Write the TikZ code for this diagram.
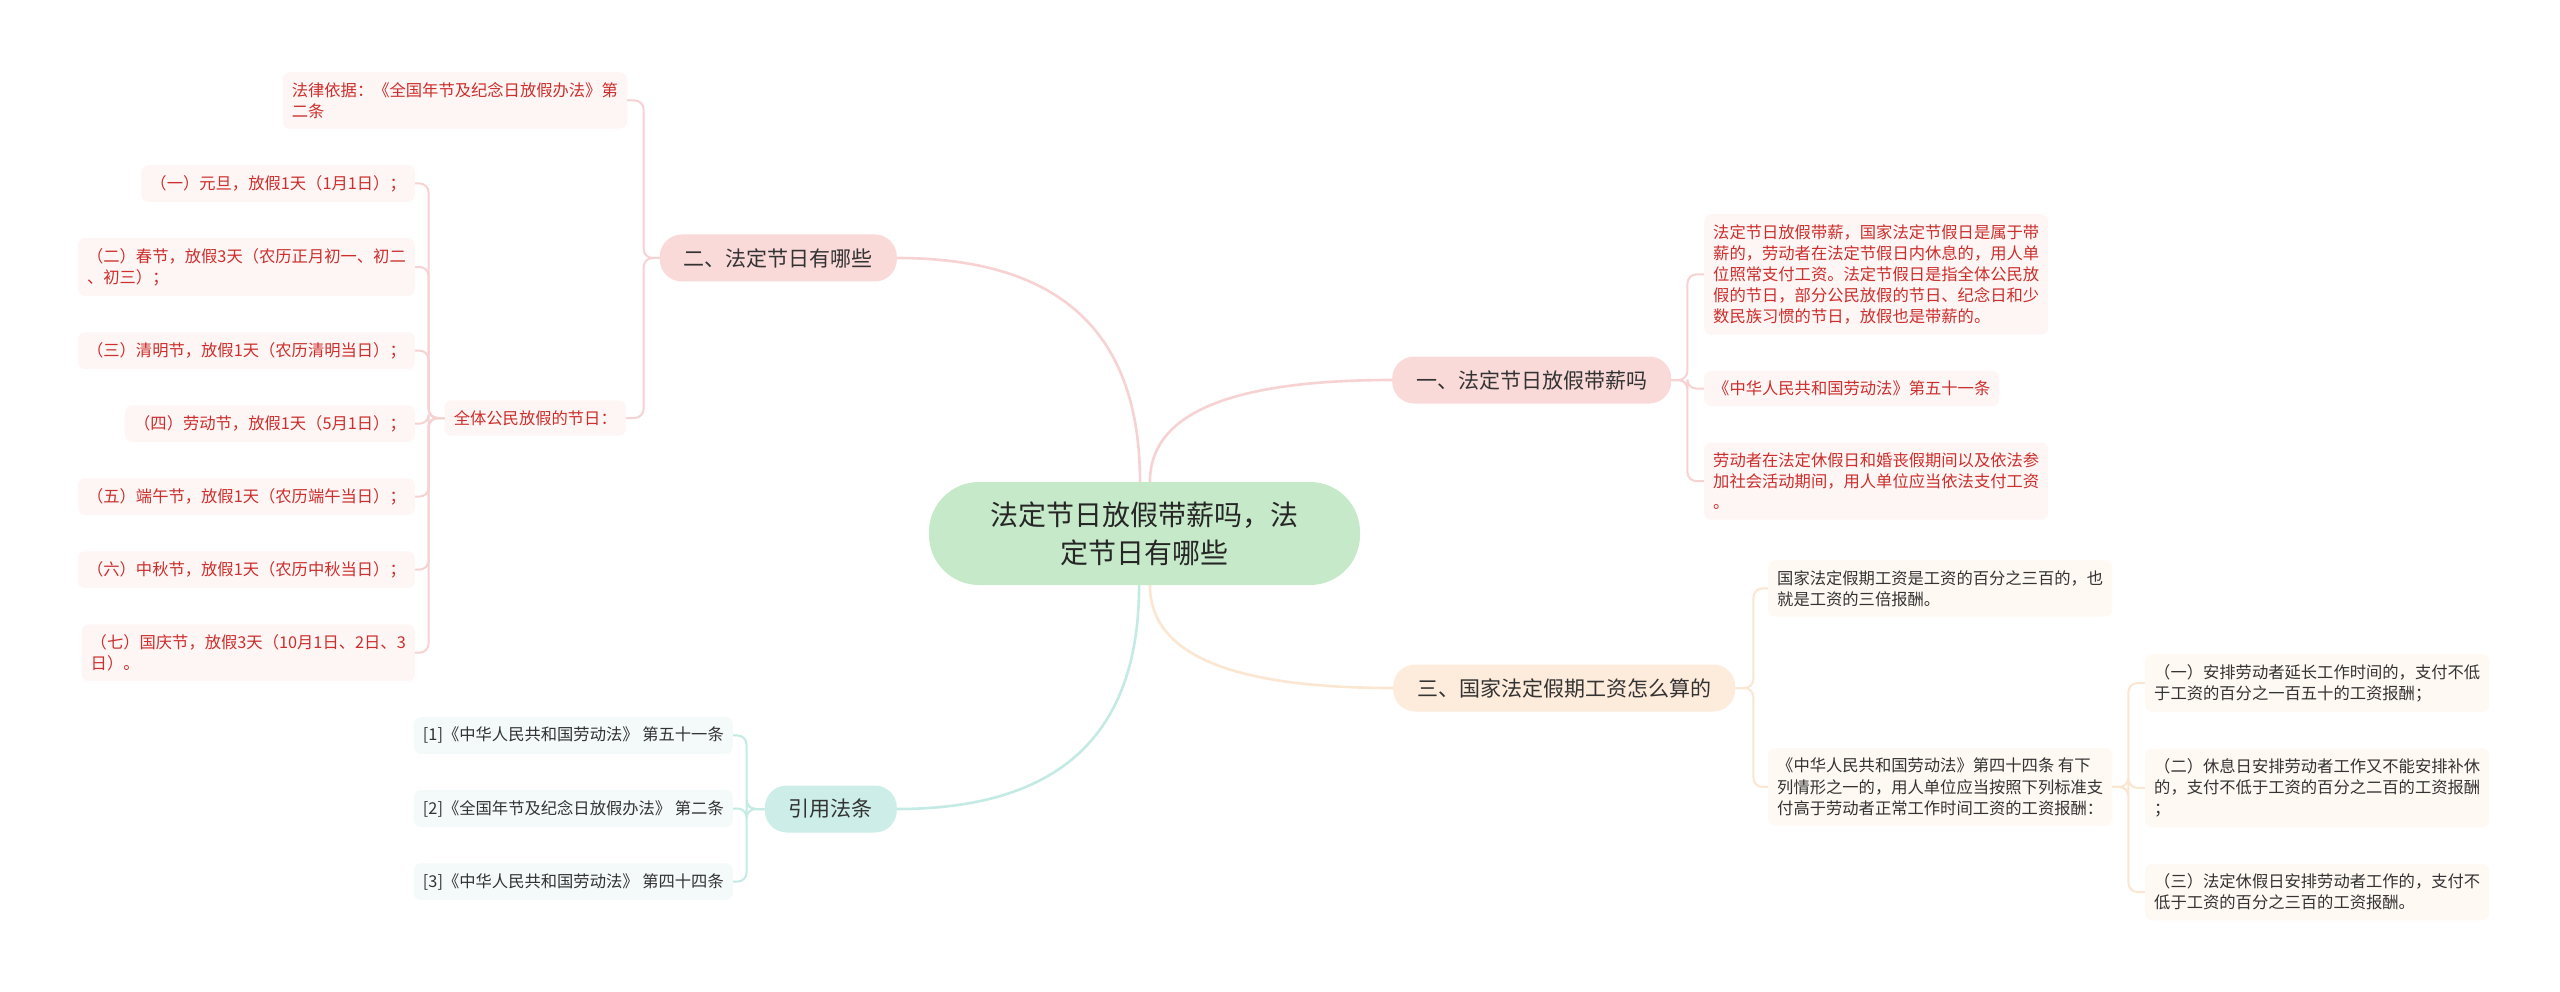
\documentclass[tikz,border=0pt]{standalone}
\usepackage{fontspec}
\setmainfont{Noto Sans CJK SC}
\usepackage{xcolor}
\usepackage{tikz}
\usetikzlibrary{positioning,calc,backgrounds}
\definecolor{rootfill}{HTML}{C6EAC9}
\definecolor{rosefill}{HTML}{FAD9D9}
\definecolor{peachfill}{HTML}{FDEBDB}
\definecolor{mintfill}{HTML}{CDEEE8}
\definecolor{roseleaf}{HTML}{FEF5F5}
\definecolor{peachleaf}{HTML}{FFF9F3}
\definecolor{mintleaf}{HTML}{F3FAF9}
\definecolor{roseline}{HTML}{F6D2D2}
\definecolor{peachline}{HTML}{FBE6D1}
\definecolor{mintline}{HTML}{C3EAE3}
\definecolor{leafred}{HTML}{CC2F2C}
\definecolor{ink}{HTML}{333333}
\tikzset{
    topic/.style={rectangle, rounded corners=50pt, fill=rootfill, text=ink!75!black, minimum width=431pt, minimum height=103pt, align=center, font=\fontsize{28}{38}\selectfont},
    branch/.style={rectangle, rounded corners=22pt, minimum height=47pt, inner xsep=24pt, inner ysep=0pt, text=ink, font=\fontsize{21}{26}\selectfont},
    leaf/.style={rectangle, rounded corners=7pt, inner xsep=9pt, inner ysep=10pt, align=left, font=\fontsize{16.3}{21.2}\selectfont},
    roseleafbox/.style={leaf, fill=roseleaf, text=leafred},
    peachleafbox/.style={leaf, fill=peachleaf, text=ink},
    mintleafbox/.style={leaf, fill=mintleaf, text=ink},
    link/.style={line width=2.6pt, line cap=round},
    twig/.style={line width=2pt, rounded corners=9pt},
    curvy/.style={to path={.. controls ($(\tikztostart)!.67!(\tikztostart |- \tikztotarget)$) and ($(\tikztotarget)!.67!(\tikztostart |- \tikztotarget)$) .. (\tikztotarget)}}
}

\begin{document}
\begin{tikzpicture}[x=1pt, y=-1pt]
    \useasboundingbox (0,0) rectangle (2560,992);
    % centre and main branches
    \node[topic] (root) at (1144.5,533.5) {法定节日放假带薪吗，法\\定节日有哪些};
    \node[branch, fill=rosefill, anchor=west] (b1) at (1392,380) {一、法定节日放假带薪吗};
    \node[branch, fill=rosefill, anchor=east] (b2) at (897,258) {二、法定节日有哪些};
    \node[branch, fill=peachfill, anchor=west] (b3) at (1393,688) {三、国家法定假期工资怎么算的};
    \node[branch, fill=mintfill, anchor=east] (b4) at (897,809) {引用法条};

    % branch one
    \node[roseleafbox, anchor=north west] (p1) at (1704,214) {法定节日放假带薪，国家法定节假日是属于带\\薪的，劳动者在法定节假日内休息的，用人单\\位照常支付工资。法定节假日是指全体公民放\\假的节日，部分公民放假的节日、纪念日和少\\数民族习惯的节日，放假也是带薪的。};
    \node[roseleafbox, below=36pt of p1.south west, anchor=north west] (p2) {《中华人民共和国劳动法》第五十一条};
    \node[roseleafbox, below=36pt of p2.south west, anchor=north west] (p3) {劳动者在法定休假日和婚丧假期间以及依法参\\加社会活动期间，用人单位应当依法支付工资\\。};

    % branch two
    \node[roseleafbox, anchor=north east] (basis) at (627,72) {法律依据：《全国年节及纪念日放假办法》第\\二条};
    \node[roseleafbox, anchor=east] (allday) at (626,418) {全体公民放假的节日：};
    \node[roseleafbox, anchor=north east] (h1) at (415,165) {（一）元旦，放假1天（1月1日）；};
    \node[roseleafbox, below=36pt of h1.south east, anchor=north east] (h2) {（二）春节，放假3天（农历正月初一、初二\\、初三）；};
    \node[roseleafbox, below=36pt of h2.south east, anchor=north east] (h3) {（三）清明节，放假1天（农历清明当日）；};
    \node[roseleafbox, below=36pt of h3.south east, anchor=north east] (h4) {（四）劳动节，放假1天（5月1日）；};
    \node[roseleafbox, below=36pt of h4.south east, anchor=north east] (h5) {（五）端午节，放假1天（农历端午当日）；};
    \node[roseleafbox, below=36pt of h5.south east, anchor=north east] (h6) {（六）中秋节，放假1天（农历中秋当日）；};
    \node[roseleafbox, below=36pt of h6.south east, anchor=north east] (h7) {（七）国庆节，放假3天（10月1日、2日、3\\日）。};

    % branch three
    \node[peachleafbox, anchor=north west] (q1) at (1768,560) {国家法定假期工资是工资的百分之三百的，也\\就是工资的三倍报酬。};
    \node[peachleafbox, anchor=north west] (q2) at (1768,748) {《中华人民共和国劳动法》第四十四条 有下\\列情形之一的，用人单位应当按照下列标准支\\付高于劳动者正常工作时间工资的工资报酬：};
    \node[peachleafbox, anchor=north west] (r1) at (2145,654) {（一）安排劳动者延长工作时间的，支付不低\\于工资的百分之一百五十的工资报酬；};
    \node[peachleafbox, below=36pt of r1.south west, anchor=north west] (r2) {（二）休息日安排劳动者工作又不能安排补休\\的，支付不低于工资的百分之二百的工资报酬\\；};
    \node[peachleafbox, below=36pt of r2.south west, anchor=north west] (r3) {（三）法定休假日安排劳动者工作的，支付不\\低于工资的百分之三百的工资报酬。};

    % branch four
    \node[mintleafbox, anchor=north east] (ref1) at (733,717) {[1]《中华人民共和国劳动法》 第五十一条};
    \node[mintleafbox, below=36pt of ref1.south east, anchor=north east] (ref2) {[2]《全国年节及纪念日放假办法》 第二条};
    \node[mintleafbox, below=36pt of ref2.south east, anchor=north east] (ref3) {[3]《中华人民共和国劳动法》 第四十四条};

    \begin{scope}[on background layer]
        \fill[white] (0,0) rectangle (2560,992);
        \draw[link, roseline] (root.95) to[curvy] (b2.east);
        \draw[link, roseline] (root.84) to[curvy] (b1.west);
        \draw[link, peachline] (root.276) to[curvy] (b3.west);
        \draw[link, mintline] (root.264) to[curvy] (b4.east);
        \foreach \n in {p1,p2,p3}
            \draw[twig, roseline] (b1.east) -- ++(16,0) |- (\n.west);
        \foreach \n in {basis,allday}
            \draw[twig, roseline] (b2.west) -- ++(-16,0) |- (\n.east);
        \foreach \i in {1,...,7}
            \draw[twig, roseline] (allday.west) -- ++(-16,0) |- (h\i.east);
        \foreach \n in {q1,q2}
            \draw[twig, peachline] (b3.east) -- ++(18,0) |- (\n.west);
        \foreach \n in {r1,r2,r3}
            \draw[twig, peachline] (q2.east) -- ++(16,0) |- (\n.west);
        \foreach \i in {1,2,3}
            \draw[twig, mintline] (b4.west) -- ++(-18,0) |- (ref\i.east);
    \end{scope}
\end{tikzpicture}
\end{document}
